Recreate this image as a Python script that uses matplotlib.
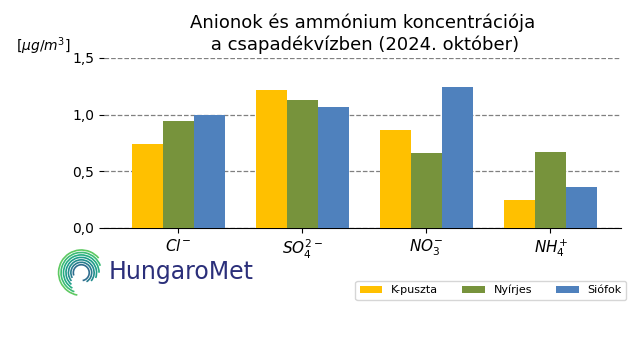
import numpy as np
import matplotlib
matplotlib.use('Agg')
import matplotlib.pyplot as plt
from matplotlib.patches import Arc
from matplotlib.ticker import FuncFormatter

# data
ions = [r'$Cl^{-}$', r'$SO_4^{2-}$', r'$NO_3^{-}$', r'$NH_4^{+}$']
stations = ['K-puszta', 'Nyírjes', 'Siófok']
kpuszta = [0.74, 1.22, 0.86, 0.25]
nyirjes = [0.94, 1.13, 0.66, 0.67]
siofok = [1.00, 1.07, 1.24, 0.36]
colors = ['#ffc000', '#77933c', '#4f81bd']

fig = plt.figure(figsize=(6.4, 3.6), dpi=100)
ax = fig.add_axes([0.1625, 0.367, 0.808, 0.472])

x = np.arange(len(ions))
w = 0.25
for i, (vals, name) in enumerate(zip([kpuszta, nyirjes, siofok], stations)):
    ax.bar(x + (i - 1) * w, vals, w, color=colors[i], label=name, zorder=3)

ax.set_xlim(-0.6, 3.57)
ax.set_ylim(0, 1.5)
ax.set_yticks([0, 0.5, 1.0, 1.5])
ax.yaxis.set_major_formatter(FuncFormatter(lambda v, p: f'{v:.1f}'.replace('.', ',')))
ax.set_xticks(x)
ax.set_xticklabels(ions, fontsize=11)
ax.tick_params(axis='y', labelsize=10)
ax.grid(axis='y', color='gray', linestyle='--', linewidth=0.9, zorder=0)
for s in ['top', 'right', 'left']:
    ax.spines[s].set_visible(False)

ax.set_title('Anionok és ammónium koncentrációja\n a csapadékvízben (2024. október)',
             fontsize=13, pad=6)
fig.text(0.068, 0.872, r'[$\mu g/m^3$]', ha='center', va='center', fontsize=10)

ax.legend(loc='upper right', bbox_to_anchor=(1.01, -0.31), ncol=3, fontsize=8,
          handlelength=2.0, columnspacing=2.2, borderaxespad=0)

# rough stand-in for the HungaroMet logo
lax = fig.add_axes([0.088, 0.17, 0.078, 0.145])
lax.set_xlim(-1.1, 1.1)
lax.set_ylim(-1.1, 1.1)
lax.set_aspect('equal')
lax.axis('off')
for k, r in enumerate(np.linspace(0.35, 1.0, 7)):
    c = plt.cm.viridis(0.35 + 0.4 * k / 6)
    lax.add_patch(Arc((0, 0), 2 * r, 2 * r, theta1=-80 + 20 * k, theta2=200 + 10 * k,
                      color=c, lw=1.2))
fig.text(0.17, 0.245, 'HungaroMet', fontsize=17, color='#2b2f7a', va='center')

fig.savefig('out.png', dpi=100)
